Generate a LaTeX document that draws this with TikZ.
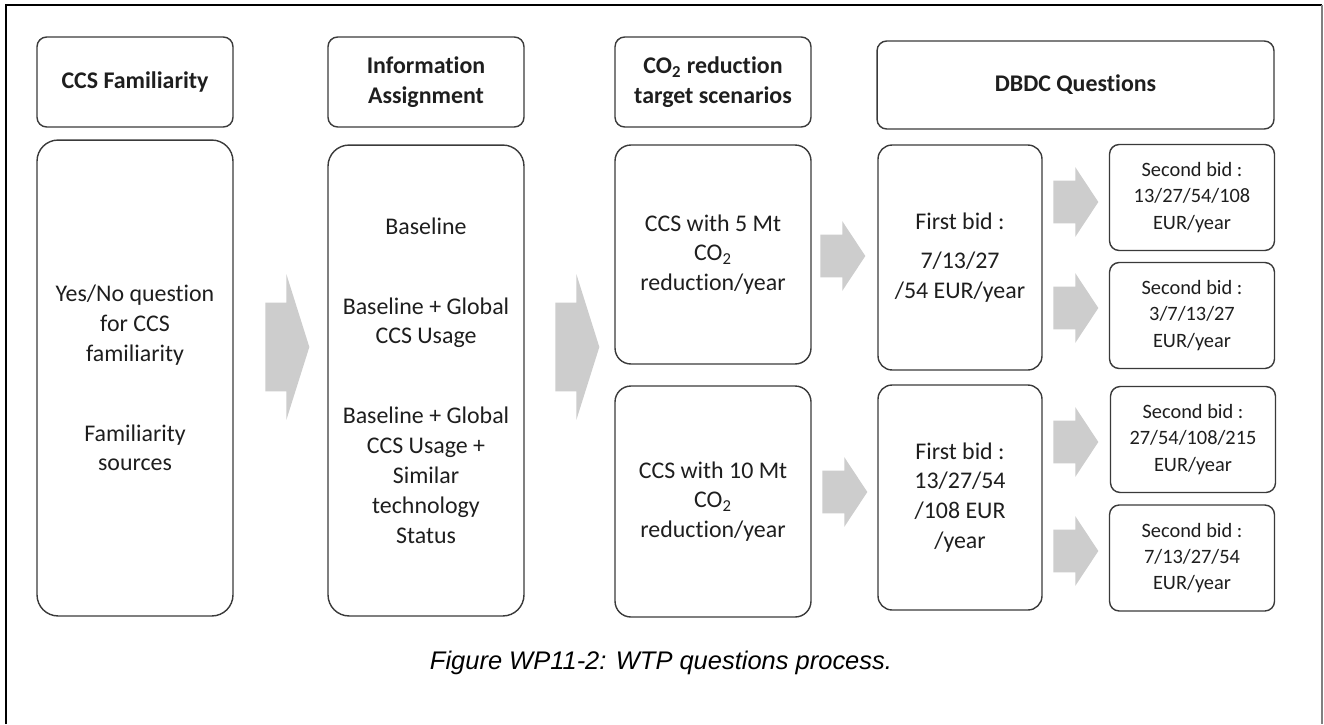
\documentclass[tikz,border=0pt]{standalone}
\usepackage{fontspec}
\setmainfont{Carlito}[Ligatures=CommonOff]
\newfontfamily\captionfont{Liberation Sans}
\usetikzlibrary{shapes.arrows}
\definecolor{boxline}{HTML}{3A3A3A}
\definecolor{arrowgray}{HTML}{CDCDCD}
\definecolor{textdark}{HTML}{1E1E1E}

\begin{document}
\begin{tikzpicture}[x=0.02cm, y=-0.02cm,
    box/.style={draw=boxline, line width=0.8pt, rounded corners=#1, align=center, text=textdark, font=\fontsize{13.6}{17}\selectfont, inner sep=0pt},
    box/.default=5pt,
    head/.style={box=5.5pt, font=\fontsize{13.6}{17}\selectfont\bfseries, minimum width=3.92cm, minimum height=1.8cm},
    bidbox/.style={box=5.5pt, font=\fontsize{11.6}{15}\selectfont, minimum width=3.3cm, minimum height=2.12cm},
    blockarrow/.style={single arrow, fill=arrowgray, draw=none, inner xsep=0pt, anchor=tail},
    bigarr/.style={blockarrow, inner ysep=0.88cm, minimum height=0.88cm, single arrow head extend=0.57cm, single arrow tip angle=145},
    smallarr/.style={blockarrow, inner ysep=0.42cm, minimum height=0.9cm, single arrow head extend=0.27cm, single arrow tip angle=113},
]
\useasboundingbox (0,0) rectangle (1324,724);

% frame (open at the bottom)
\draw[line width=1.2pt] (6,724) -- (6,5) -- (1322,5);
\draw[gray, line width=0.6pt] (1322,5) -- (1322,724);

% column headers
\node[head] (famhead) at (135,82) {CCS Familiarity};
\node[head] (infohead) at (426,82) {Information\\Assignment};
\node[head] (co2head) at (713,82) {CO\textsubscript{2} reduction\\target scenarios};
\node[head, minimum width=7.94cm, minimum height=1.76cm] (dbdchead) at (1075.5,85) {DBDC Questions};

% first two columns
\node[box=12pt, minimum width=3.92cm, minimum height=9.52cm] (fambody) at (135,378)
  {Yes/No question\\for CCS\\familiarity\\[1.0cm] Familiarity\\sources};
\node[box=12pt, minimum width=3.92cm, minimum height=9.42cm] (infobody) at (426,380.5)
  {Baseline\\[1.0cm] Baseline + Global\\CCS Usage\\[1.0cm] Baseline + Global\\CCS Usage +\\Similar\\technology\\Status};

% scenarios
\node[box=9pt, minimum width=3.92cm, minimum height=4.38cm] (mt5) at (713,254.5)
  {CCS with 5 Mt\\CO\textsubscript{2}\\reduction/year};
\node[box=9pt, minimum width=3.92cm, minimum height=4.62cm] (mt10) at (713,501.5)
  {CCS with 10 Mt\\CO\textsubscript{2}\\reduction/year};

% first bids
\node[box=8pt, minimum width=3.28cm, minimum height=4.5cm] (first1) at (960,257.5)
  {First bid :\\[0.2cm] 7/13/27\\/54 EUR/year};
\node[box=8pt, minimum width=3.28cm, minimum height=4.5cm] (first2) at (960,497.5)
  {First bid :\\13/27/54\\/108 EUR\\/year};

% second bids
\node[bidbox] (sec1) at (1192,197.5) {Second bid :\\13/27/54/108\\EUR/year};
\node[bidbox] (sec2) at (1192,315.5) {Second bid :\\3/7/13/27\\EUR/year};
\node[bidbox] (sec3) at (1193,439.5) {Second bid :\\27/54/108/215\\EUR/year};
\node[bidbox] (sec4) at (1192,558) {Second bid :\\7/13/27/54\\EUR/year};

% block arrows
\node[bigarr] (a1) at (265,347) {};
\node[bigarr] (a2) at (555,347) {};
\node[smallarr] (a3) at (820,256) {};
\node[smallarr] (a4) at (822,492) {};
\node[smallarr] (a5) at (1053,202) {};
\node[smallarr] (a6) at (1053,308) {};
\node[smallarr] (a7) at (1053,442) {};
\node[smallarr] (a8) at (1053,551) {};

\node[font=\captionfont\itshape\fontsize{14.5}{17}\selectfont] (caption) at (661,663)
  {Figure WP11-2: WTP questions process.};
\end{tikzpicture}
\end{document}
